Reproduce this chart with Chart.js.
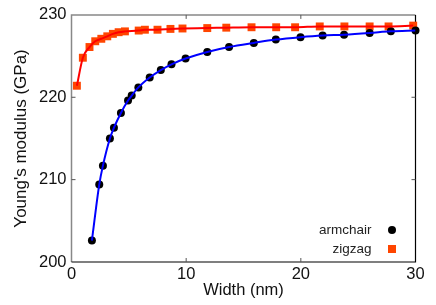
<!DOCTYPE html>
<html>
<head>
<meta charset="utf-8">
<script src="https://cdn.jsdelivr.net/npm/chart.js@4"></script>
<style>
  html, body { margin: 0; padding: 0; background: #fff; }
  #wrap { width: 436px; height: 305px; }
</style>
</head>
<body>
<div id="wrap"><canvas id="myChart" width="436" height="305"></canvas></div>
<script>
// widths (nm) and Young's modulus (GPa)
const armchairWidth = [1.78, 2.42, 2.74, 3.35, 3.70, 4.31, 4.93, 5.25, 5.83, 6.82, 7.79, 8.72, 9.95, 11.84, 13.74, 15.9, 17.82, 19.97, 21.9, 23.77, 26.0, 27.85, 30.0]
const armchairE = [202.6, 209.4, 211.7, 215.0, 216.3, 218.1, 219.6, 220.2, 221.2, 222.4, 223.3, 224.0, 224.7, 225.5, 226.1, 226.6, 227.0, 227.3, 227.5, 227.6, 227.8, 228.0, 228.1]
const zigzagWidth = [0.47, 0.99, 1.57, 2.07, 2.6, 3.12, 3.61, 4.11, 4.66, 5.86, 6.4, 7.5, 8.63, 9.68, 11.84, 13.5, 15.7, 17.85, 19.5, 21.65, 23.8, 26.0, 27.65, 29.8]
const zigzagE = [221.4, 224.8, 226.1, 226.8, 227.1, 227.4, 227.7, 227.9, 228.0, 228.1, 228.2, 228.2, 228.3, 228.35, 228.4, 228.45, 228.5, 228.5, 228.5, 228.6, 228.6, 228.6, 228.6, 228.7]
const seriesNames = ['armchair', 'zigzag']
const xTicks = [0, 10, 20, 30]
const yTicks = [200, 210, 220, 230]

const FONT = 'Liberation Sans, Arial, Helvetica, sans-serif'

function toPoints(xs, ys) {
    return xs.map((x, i) => ({ x: x, y: ys[i] }))
}

// frame + inside tick marks, gnuplot style
const framePlugin = {
    id: 'frame',
    beforeDatasetsDraw(chart) {
        const ctx = chart.ctx
        const a = chart.chartArea
        const xs = chart.scales.x, ys = chart.scales.y
        ctx.save()
        ctx.lineWidth = 1.5
        ctx.strokeStyle = '#888'
        ctx.beginPath()
        ctx.moveTo(a.left, a.bottom)
        ctx.lineTo(a.left, a.top)
        ctx.lineTo(a.right, a.top)
        ctx.stroke()
        ctx.strokeStyle = '#000'
        ctx.lineWidth = 1.2
        ctx.beginPath()
        ctx.moveTo(a.left, a.bottom)
        ctx.lineTo(a.right, a.bottom)
        ctx.lineTo(a.right, a.top)
        ctx.stroke()
        ctx.lineWidth = 1
        ctx.strokeStyle = '#555'
        ctx.beginPath()
        xTicks.slice(1, -1).forEach(v => {
            const px = xs.getPixelForValue(v)
            ctx.moveTo(px, a.bottom); ctx.lineTo(px, a.bottom - 4)
            ctx.moveTo(px, a.top); ctx.lineTo(px, a.top + 4)
        })
        yTicks.slice(1, -1).forEach(v => {
            const py = ys.getPixelForValue(v)
            ctx.moveTo(a.left, py); ctx.lineTo(a.left + 4, py)
            ctx.moveTo(a.right, py); ctx.lineTo(a.right - 4, py)
        })
        ctx.stroke()
        ctx.restore()
    }
}

// legend inside the plot, text then marker
const legendPlugin = {
    id: 'innerLegend',
    afterDraw(chart) {
        const ctx = chart.ctx
        const a = chart.chartArea
        ctx.save()
        ctx.font = '13.5px ' + FONT
        ctx.textAlign = 'right'
        ctx.textBaseline = 'middle'
        ctx.fillStyle = '#222'
        const tx = a.right - 44, mx = a.right - 23.5
        const rows = [a.bottom - 32, a.bottom - 13]
        ctx.fillText(seriesNames[0], tx, rows[0])
        ctx.fillText(seriesNames[1], tx, rows[1])
        ctx.fillStyle = '#000'
        ctx.beginPath()
        ctx.arc(mx, rows[0], 4, 0, Math.PI * 2)
        ctx.fill()
        ctx.fillStyle = '#ff4500'
        ctx.fillRect(mx - 4, rows[1] - 4, 8, 8)
        ctx.restore()
    }
}

function BuildChart() {
    const ctx = document.getElementById('myChart')
    return new Chart(ctx, {
        type: 'line',
        data: {
            datasets: [
                {
                    label: 'armchair fit',
                    data: toPoints(armchairWidth, armchairE),
                    borderColor: '#0000ff',
                    borderWidth: 2,
                    pointRadius: 0,
                    cubicInterpolationMode: 'monotone',
                    order: 0
                },
                {
                    label: 'zigzag fit',
                    data: toPoints(zigzagWidth, zigzagE),
                    borderColor: '#ff0000',
                    borderWidth: 2,
                    pointRadius: 0,
                    cubicInterpolationMode: 'monotone',
                    order: 1
                },
                {
                    label: seriesNames[0],
                    data: toPoints(armchairWidth, armchairE),
                    showLine: false,
                    pointStyle: 'circle',
                    pointRadius: 4,
                    pointBackgroundColor: '#000',
                    pointBorderWidth: 0,
                    clip: false,
                    order: 2
                },
                {
                    label: seriesNames[1],
                    data: toPoints(zigzagWidth, zigzagE),
                    showLine: false,
                    pointStyle: 'rect',
                    pointRadius: 5.6,
                    pointBackgroundColor: '#ff4500',
                    pointBorderWidth: 0,
                    clip: false,
                    order: 3
                }
            ]
        },
        options: {
            responsive: false,
            animation: false,
            layout: { padding: { left: 0, right: 20.5, top: 9.5, bottom: 0 } },
            plugins: {
                legend: { display: false },
                tooltip: { enabled: false }
            },
            scales: {
                x: {
                    type: 'linear',
                    min: 0,
                    max: 30,
                    afterBuildTicks: s => { s.ticks = xTicks.map(v => ({ value: v })) },
                    afterFit: s => { s.height = 43 },
                    grid: { display: false, drawTicks: false },
                    border: { display: false },
                    ticks: { color: '#111', padding: 3, font: { family: FONT, size: 16.5 } },
                    title: {
                        display: true,
                        text: 'Width (nm)',
                        color: '#111',
                        padding: { top: 0, bottom: 5 },
                        font: { family: FONT, size: 16.5 }
                    }
                },
                y: {
                    type: 'linear',
                    min: 200,
                    max: 230,
                    afterBuildTicks: s => { s.ticks = yTicks.map(v => ({ value: v })) },
                    afterFit: s => { s.width = 71.5 },
                    grid: { display: false, drawTicks: false },
                    border: { display: false },
                    ticks: { color: '#111', padding: 5, font: { family: FONT, size: 16.5 } },
                    title: {
                        display: true,
                        text: "Young's modulus (GPa)",
                        color: '#111',
                        padding: { top: 11, bottom: 0 },
                        font: { family: FONT, size: 17 }
                    }
                }
            }
        },
        plugins: [framePlugin, legendPlugin]
    })
}

BuildChart()
</script>
</body>
</html>
